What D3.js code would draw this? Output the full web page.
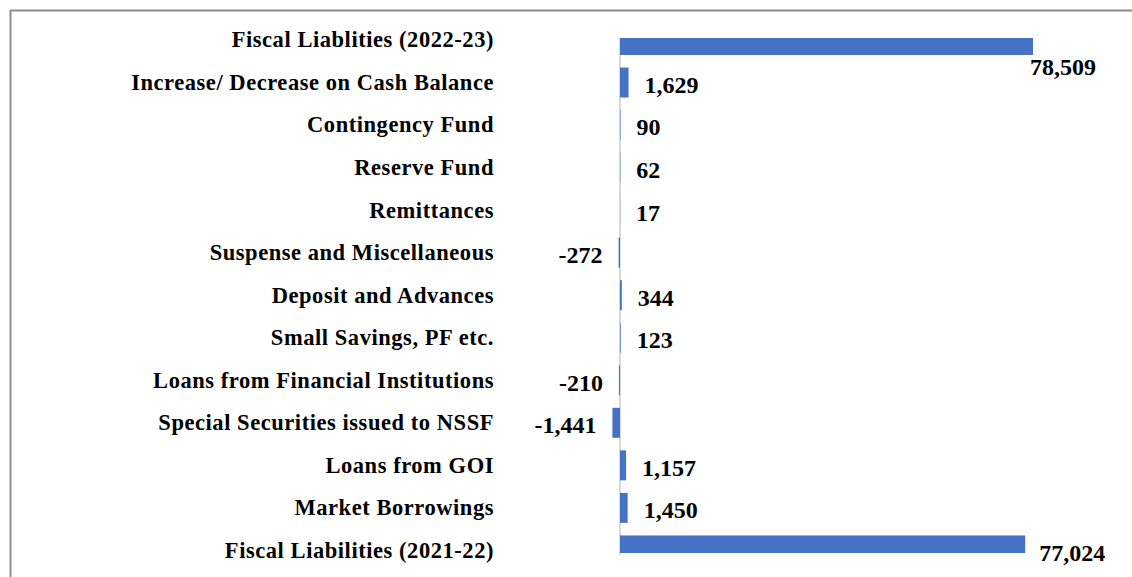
<!DOCTYPE html>
<html>
<head>
<meta charset="utf-8">
<script src="https://cdn.jsdelivr.net/npm/d3@7"></script>
<style>
  body { margin: 0; background: #fff; }
  text { font-family: "Liberation Serif", "Times New Roman", serif; font-weight: bold; fill: #000; }
</style>
</head>
<body>
<div id="wrapper"></div>
<script>
// data, top to bottom
const categories = [
  "Fiscal Liablities (2022-23)",
  "Increase/ Decrease on Cash Balance",
  "Contingency Fund",
  "Reserve Fund",
  "Remittances",
  "Suspense and Miscellaneous",
  "Deposit and Advances",
  "Small Savings, PF etc.",
  "Loans from Financial Institutions",
  "Special Securities issued to NSSF",
  "Loans from GOI",
  "Market Borrowings",
  "Fiscal Liabilities (2021-22)"
];
const values = [78509, 1629, 90, 62, 17, -272, 344, 123, -210, -1441, 1157, 1450, 77024];
const valueLabels = ["78,509", "1,629", "90", "62", "17", "-272", "344", "123", "-210", "-1,441", "1,157", "1,450", "77,024"];

const dataset = categories.map((c, i) => ({ name: c, value: values[i], label: valueLabels[i] }));

const yAccessor = d => d.name;
const xAccessor = d => d.value;

let dimensions = {
  width: 1132,
  height: 577,
  plotTop: 38,
  plotBottom: 553,
};

const wrapper = d3.select("#wrapper")
  .append("svg")
  .attr("width", dimensions.width)
  .attr("height", dimensions.height);

// frame lines (left + top)
wrapper.append("path")
  .attr("d", `M10.5,${dimensions.height} V10.5 H${dimensions.width}`)
  .attr("fill", "none")
  .attr("stroke", "#8c8c8c")
  .attr("stroke-width", 2);

// scales
const xScale = d3.scaleLinear()
  .domain([0, d3.max(dataset, xAccessor)])
  .range([620, 1033]);

const yScale = d3.scaleBand()
  .domain(categories)
  .range([18.7, 571.7])
  .paddingInner(0.295)
  .paddingOuter(0.1475);

wrapper.append("defs").append("clipPath")
  .attr("id", "plot-clip")
  .append("rect")
  .attr("x", 0)
  .attr("y", dimensions.plotTop)
  .attr("width", dimensions.width)
  .attr("height", dimensions.plotBottom - dimensions.plotTop);

// zero line
wrapper.append("line")
  .attr("x1", xScale(0)).attr("x2", xScale(0))
  .attr("y1", dimensions.plotTop).attr("y2", dimensions.plotBottom + 2)
  .attr("stroke", "#d9d9d9")
  .attr("stroke-width", 2);

// bars
wrapper.append("g")
  .attr("clip-path", "url(#plot-clip)")
  .selectAll("rect")
  .data(dataset)
  .join("rect")
  .attr("x", d => Math.min(xScale(0), xScale(xAccessor(d))))
  .attr("y", d => yScale(yAccessor(d)))
  .attr("width", d => Math.abs(xScale(xAccessor(d)) - xScale(0)))
  .attr("height", yScale.bandwidth())
  .attr("fill", "#4472c4");

// category labels
wrapper.append("g")
  .selectAll("text")
  .data(dataset)
  .join("text")
  .attr("x", 494)
  .attr("y", d => yScale(yAccessor(d)) + yScale.bandwidth() / 2)
  .attr("dy", "0.33em")
  .attr("text-anchor", "end")
  .style("font-size", "22.5px")
  .style("letter-spacing", "0.55px")
  .text(d => d.name);

// value labels
const last = dataset.length - 1;
wrapper.append("g")
  .selectAll("text")
  .data(dataset)
  .join("text")
  .attr("x", (d, i) => {
    const end = xScale(xAccessor(d));
    if (i === 0) return end - 3;
    if (i === last) return end + 14;
    return d.value < 0 ? end - 16 : Math.max(end, xScale(0)) + 16;
  })
  .attr("y", (d, i) => {
    const c = yScale(yAccessor(d)) + yScale.bandwidth() / 2;
    if (i === 0) return c + 27;
    return c + 2;
  })
  .attr("dy", "0.35em")
  .attr("text-anchor", d => d.value < 0 ? "end" : "start")
  .style("font-size", "24px")
  .text(d => d.label);
</script>
</body>
</html>
